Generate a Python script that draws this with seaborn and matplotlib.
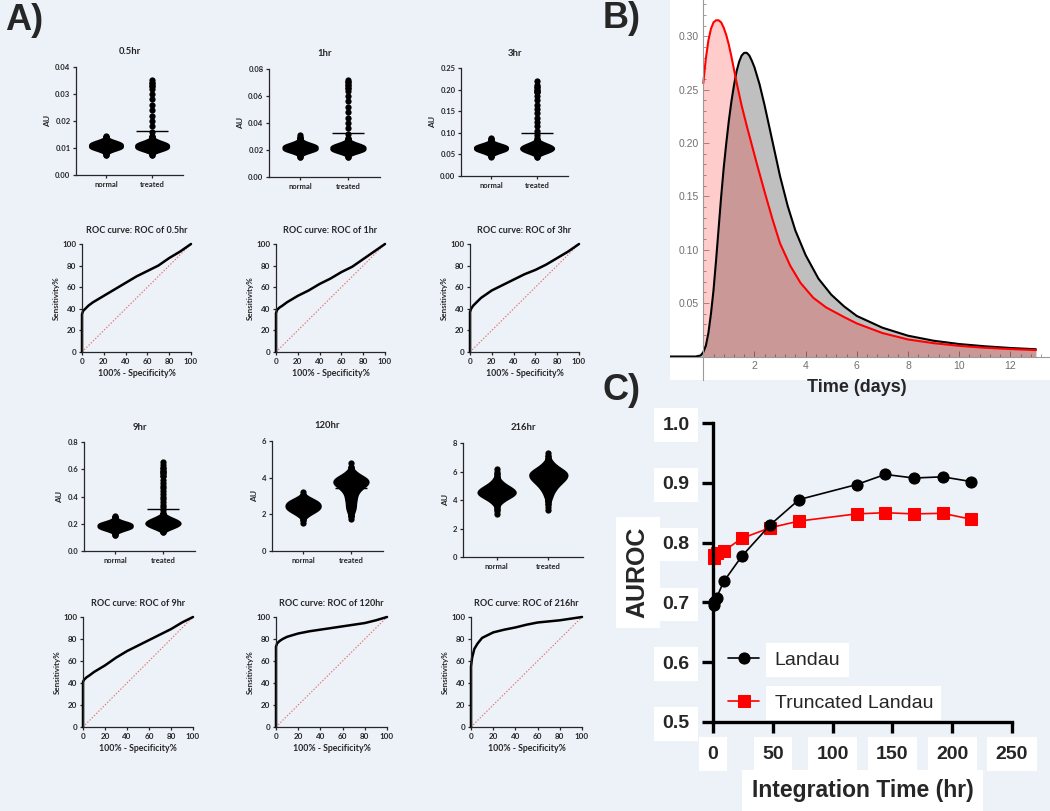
import numpy as np
import pandas as pd
import seaborn as sns
from matplotlib import pyplot as plt

swarm_titles = ["0.5hr", "1hr", "3hr", "9hr", "120hr", "216hr"]
groups = ["normal", "treated"]

normal_values = [
    [0.0075, 0.008, 0.0085, 0.009, 0.0095, 0.010, 0.0105, 0.011, 0.0115, 0.012, 0.0125,
     0.013, 0.0135, 0.014, 0.0145],
    [0.015, 0.016, 0.017, 0.018, 0.019, 0.020, 0.021, 0.022, 0.023, 0.024, 0.025, 0.026,
     0.027, 0.028, 0.029, 0.030, 0.031],
    [0.043, 0.046, 0.049, 0.052, 0.055, 0.058, 0.061, 0.064, 0.067, 0.070, 0.073, 0.076,
     0.079, 0.082, 0.085, 0.088],
    [0.12, 0.13, 0.14, 0.15, 0.16, 0.17, 0.18, 0.19, 0.20, 0.21, 0.22, 0.23, 0.24, 0.25, 0.26],
    [1.55, 1.7, 1.85, 2.0, 2.15, 2.3, 2.45, 2.6, 2.75, 2.9, 3.05, 3.2],
    [3.0, 3.2, 3.4, 3.6, 3.8, 4.0, 4.2, 4.4, 4.6, 4.8, 5.0, 5.2, 5.4, 5.6, 5.8, 6.0, 6.2],
]
normal_counts = [
    [2, 4, 8, 13, 18, 20, 20, 20, 20, 19, 16, 11, 6, 3, 1],
    [2, 4, 8, 13, 18, 20, 20, 20, 20, 19, 15, 10, 6, 3, 2, 1, 1],
    [1, 3, 6, 10, 15, 19, 20, 20, 20, 20, 17, 12, 7, 3, 2, 1],
    [2, 4, 8, 13, 18, 20, 20, 20, 20, 18, 13, 7, 4, 2, 1],
    [1, 2, 5, 10, 16, 20, 20, 20, 17, 10, 4, 1],
    [1, 1, 2, 3, 6, 10, 16, 20, 20, 18, 13, 8, 5, 3, 2, 1, 1],
]
treated_values = [
    [0.0075, 0.008, 0.0085, 0.009, 0.0095, 0.010, 0.0105, 0.011, 0.0115, 0.012, 0.0125,
     0.013, 0.0135, 0.014, 0.0145, 0.016, 0.018, 0.020, 0.022, 0.024, 0.026, 0.028, 0.030,
     0.032, 0.033, 0.034, 0.035],
    [0.015, 0.016, 0.017, 0.018, 0.019, 0.020, 0.021, 0.022, 0.023, 0.024, 0.025, 0.026,
     0.027, 0.028, 0.029, 0.032, 0.036, 0.040, 0.044, 0.048, 0.052, 0.056, 0.060, 0.064,
     0.066, 0.068, 0.070, 0.072],
    [0.045, 0.048, 0.051, 0.054, 0.057, 0.060, 0.063, 0.066, 0.069, 0.072, 0.075, 0.078,
     0.081, 0.084, 0.087, 0.095, 0.105, 0.115, 0.125, 0.135, 0.145, 0.155, 0.165, 0.175,
     0.185, 0.195, 0.200, 0.205, 0.210, 0.220],
    [0.14, 0.15, 0.16, 0.17, 0.18, 0.19, 0.20, 0.21, 0.22, 0.23, 0.24, 0.25, 0.26, 0.27,
     0.28, 0.30, 0.32, 0.34, 0.36, 0.38, 0.40, 0.42, 0.44, 0.46, 0.48, 0.50, 0.52, 0.55,
     0.57, 0.59, 0.61, 0.63, 0.65],
    [1.75, 1.9, 2.05, 2.2, 2.35, 2.5, 2.65, 2.8, 2.95, 3.1, 3.25, 3.4, 3.55, 3.7, 3.85,
     4.0, 4.15, 4.3, 4.45, 4.6, 4.8],
    [3.3, 3.5, 3.7, 3.9, 4.1, 4.3, 4.5, 4.7, 4.9, 5.1, 5.3, 5.5, 5.7, 5.9, 6.1, 6.3, 6.5,
     6.7, 6.9, 7.1, 7.3],
]
treated_counts = [
    [2, 5, 10, 15, 19, 20, 20, 20, 20, 18, 14, 9, 5, 3, 1,
     1, 1, 1, 1, 1, 1, 1, 1, 1, 2, 2, 1],
    [2, 5, 10, 15, 19, 20, 20, 20, 20, 18, 14, 9, 5, 3, 1,
     1, 1, 1, 1, 1, 1, 1, 1, 1, 2, 2, 2, 1],
    [2, 5, 10, 15, 19, 20, 20, 20, 20, 18, 14, 9, 5, 3, 1,
     1, 1, 1, 1, 1, 1, 1, 1, 1, 1, 2, 2, 2, 1, 1],
    [2, 5, 10, 15, 19, 20, 20, 20, 20, 18, 14, 9, 5, 3, 1,
     1, 1, 1, 1, 1, 1, 1, 1, 1, 1, 1, 1, 2, 2, 2, 2, 1, 1],
    [1, 3, 4, 5, 6, 6, 6, 7, 7, 8, 10, 13, 18, 20, 20, 18, 12, 7, 4, 2, 1],
    [1, 1, 2, 3, 4, 5, 6, 8, 10, 13, 16, 19, 20, 20, 17, 12, 8, 5, 3, 2, 1],
]
treated_means = [0.0163, 0.0327, 0.0995, 0.305, 3.42, 5.65]
swarm_yticks = [
    [0.00, 0.01, 0.02, 0.03, 0.04],
    [0.00, 0.02, 0.04, 0.06, 0.08],
    [0.00, 0.05, 0.10, 0.15, 0.20, 0.25],
    [0.0, 0.2, 0.4, 0.6, 0.8],
    [0, 2, 4, 6],
    [0, 2, 4, 6, 8],
]
swarm_ylabels = [
    ["0.00", "0.01", "0.02", "0.03", "0.04"],
    ["0.00", "0.02", "0.04", "0.06", "0.08"],
    ["0.00", "0.05", "0.10", "0.15", "0.20", "0.25"],
    ["0.0", "0.2", "0.4", "0.6", "0.8"],
    ["0", "2", "4", "6"],
    ["0", "2", "4", "6", "8"],
]

# === data: panel A, ROC curves ===
roc_fpr = [0, 0, 1, 3, 6, 10, 20, 30, 40, 50, 60, 70, 80, 90, 100]
roc_tpr = [
    [0, 35, 38, 40, 43, 46, 52, 58, 64, 70, 75, 80, 87, 93, 100],
    [0, 36, 39, 41, 43, 46, 52, 57, 63, 68, 74, 79, 86, 93, 100],
    [0, 37, 40, 43, 46, 50, 57, 62, 67, 72, 76, 81, 87, 93, 100],
    [0, 41, 43, 45, 47, 50, 56, 63, 69, 74, 79, 84, 89, 95, 100],
    [0, 73, 76, 78, 80, 82, 85, 87, 88.5, 90, 91.5, 93, 94.5, 97, 100],
    [0, 55, 63, 71, 76, 81, 86, 88.5, 90.5, 93, 95, 96, 97, 98.5, 100],
]

# === data: panel B, Landau densities ===
landau_t = [-1.3, -0.3, -0.1, 0.0, 0.1, 0.2, 0.3, 0.4, 0.5, 0.6, 0.7, 0.8, 0.9, 1.0, 1.1,
            1.2, 1.3, 1.4, 1.5, 1.6, 1.7, 1.8, 1.9, 2.0, 2.1, 2.2, 2.3, 2.4, 2.6, 2.8,
            3.0, 3.3, 3.6, 4.0, 4.5, 5.0, 5.5, 6.0, 7.0, 8.0, 9.0, 10.0, 11.0, 12.0, 13.0]
landau_pdf = [0.0, 0.0, 0.001, 0.004, 0.010, 0.022, 0.040, 0.062, 0.090, 0.120, 0.150,
              0.177, 0.200, 0.221, 0.239, 0.254, 0.267, 0.276, 0.282, 0.2845, 0.2845,
              0.282, 0.277, 0.271, 0.263, 0.255, 0.245, 0.235, 0.213, 0.191, 0.169,
              0.141, 0.118, 0.095, 0.073, 0.058, 0.047, 0.038, 0.027, 0.0195, 0.0148,
              0.0117, 0.0096, 0.0080, 0.0068]
trunc_t = [0.0, 0.1, 0.2, 0.3, 0.4, 0.5, 0.6, 0.7, 0.8, 0.9, 1.0, 1.1, 1.2, 1.3, 1.4, 1.5,
           1.7, 1.9, 2.1, 2.4, 2.7, 3.0, 3.4, 3.8, 4.3, 4.8, 5.5, 6.0, 7.0, 8.0, 9.0, 10.0,
           11.0, 12.0, 13.0]
trunc_pdf = [0.256, 0.279, 0.296, 0.307, 0.313, 0.315, 0.315, 0.313, 0.308, 0.301, 0.292,
             0.281, 0.269, 0.257, 0.246, 0.235, 0.216, 0.198, 0.180, 0.154, 0.129, 0.106,
             0.085, 0.069, 0.055, 0.046, 0.037, 0.031, 0.022, 0.016, 0.0125, 0.010,
             0.0082, 0.0070, 0.0060]

# === data: panel C, AUROC vs integration time ===
hours = [0.5, 1, 3, 9, 24, 48, 72, 120, 144, 168, 192, 216]
auroc_landau = [0.695, 0.700, 0.708, 0.735, 0.777, 0.830, 0.872, 0.897, 0.914, 0.908, 0.910, 0.902]
auroc_trunc = [0.780, 0.775, 0.783, 0.786, 0.807, 0.825, 0.836, 0.848, 0.850, 0.848, 0.849, 0.839]

W, H = 1050, 811
BG = "#EDF1F8"
INK = "#262626"
FONT_A = ["Lato", "DejaVu Sans"]

sns.set_style("ticks")
plt.rcParams["font.family"] = ["Liberation Sans", "DejaVu Sans"]

fig = plt.figure(figsize=(W / 100, H / 100), dpi=100)
fig.patch.set_facecolor(BG)


def px_axes(left, top, right, bottom):
    return fig.add_axes([left / W, 1 - bottom / H, (right - left) / W, (bottom - top) / H])


def style_graphpad(ax, labelsize):
    ax.patch.set_alpha(0)
    for side in ["top", "right"]:
        ax.spines[side].set_visible(False)
    for side in ["left", "bottom"]:
        ax.spines[side].set_color(INK)
        ax.spines[side].set_linewidth(0.9)
    ax.tick_params(direction="out", length=2.5, width=0.9, color=INK, pad=1.5,
                   labelsize=labelsize, labelcolor=INK)
    for lbl in ax.get_xticklabels() + ax.get_yticklabels():
        lbl.set_family(FONT_A)
        lbl.set_fontweight("bold")


def draw_swarm(ax, i):
    for grp, vals, cnts in [("normal", normal_values[i], normal_counts[i]),
                            ("treated", treated_values[i], treated_counts[i])]:
        v = np.repeat(vals, cnts).astype(float)
        df = pd.DataFrame({"group": grp, "value": v})
        # kernel about one bin wide so the outline follows the counts
        bw = 0.9 * np.median(np.diff(vals)) / v.std()
        sns.violinplot(data=df, x="group", y="value", order=groups, color="black", inner=None,
                       cut=0, density_norm="width", width=0.76, linewidth=0, bw_method=bw, ax=ax)
        sns.stripplot(data=df, x="group", y="value", order=groups, jitter=False, color="black",
                      size=4.5, ax=ax)
    ax.hlines(treated_means[i], 0.66, 1.34, color="black", lw=1.0)
    ax.set_xlim(-0.65, 1.67)
    ax.set_ylim(0, swarm_yticks[i][-1])
    ax.set_yticks(swarm_yticks[i])
    ax.set_yticklabels(swarm_ylabels[i])
    ax.set_xlabel("")
    ax.set_ylabel("AU", fontsize=6, fontweight="bold", family=FONT_A, color=INK, labelpad=3)
    ax.set_title(swarm_titles[i], fontsize=6.8, fontweight="bold", family=FONT_A, color=INK, pad=9)
    style_graphpad(ax, 5.5)


def draw_roc(ax, i):
    ax.plot([0, 100], [0, 100], ls=(0, (1.2, 1.6)), color="#E46A6A", lw=0.8)
    sns.lineplot(x=roc_fpr, y=roc_tpr[i], sort=False, estimator=None, color="black", lw=1.8, ax=ax)
    ax.lines[-1].set_clip_on(False)
    ax.set_xlim(0, 100)
    ax.set_ylim(0, 100)
    ax.set_xticks(range(0, 101, 20))
    ax.set_yticks(range(0, 101, 20))
    ax.set_xlabel("100% - Specificity%", fontsize=6.3, fontweight="bold", family=FONT_A,
                  color=INK, labelpad=3)
    ax.set_ylabel("Sensitivity%", fontsize=5.8, fontweight="bold", family=FONT_A, color=INK,
                  labelpad=2)
    ax.set_title(f"ROC curve: ROC of {swarm_titles[i]}", fontsize=6.5, fontweight="bold",
                 family=FONT_A, color=INK, pad=8)
    style_graphpad(ax, 5.8)


# === Panel A ===
swarm_boxes = [(76, 67, 183, 175), (269, 69, 380, 177), (461, 68, 568, 176),
               (84, 442, 195, 551), (272, 441, 383, 551), (463, 443, 583, 557)]
roc_boxes = [(82, 244, 191, 352), (276, 244, 385, 352), (470, 244, 579, 352),
             (83, 617, 193, 727), (276, 617, 387, 727), (471, 617, 582, 727)]
for i in range(6):
    draw_swarm(px_axes(*swarm_boxes[i]), i)
    draw_roc(px_axes(*roc_boxes[i]), i)

# === Panel B ===
axB = px_axes(670, 0, 1050, 380)
axB.set_facecolor("white")
axB.fill_between(landau_t, landau_pdf, color="black", alpha=0.25, lw=0)
axB.fill_between(trunc_t, trunc_pdf, color="red", alpha=0.2, lw=0)
sns.lineplot(x=landau_t, y=landau_pdf, color="black", lw=1.5, ax=axB)
sns.lineplot(x=trunc_t, y=trunc_pdf, color="red", lw=1.5, ax=axB)
axB.set_xlim(-1.3, 13.55)
axB.set_ylim(-0.022, 0.334)
for side in ["top", "right"]:
    axB.spines[side].set_visible(False)
for side in ["left", "bottom"]:
    axB.spines[side].set_position(("data", 0))
    axB.spines[side].set_color("#9A9A9A")
    axB.spines[side].set_linewidth(0.8)
axB.set_xticks(np.arange(2, 13, 2))
axB.set_xticks(np.arange(0.4, 13.5, 0.4), minor=True)
axB.set_yticks(np.arange(0.05, 0.31, 0.05))
axB.set_yticklabels([f"{v:.2f}" for v in np.arange(0.05, 0.31, 0.05)])
axB.set_yticks(np.arange(0.01, 0.331, 0.01), minor=True)
axB.tick_params(which="both", direction="in", color="#9A9A9A", width=0.7, labelsize=7.5,
                labelcolor="#707070")
axB.tick_params(which="major", length=4)
axB.tick_params(which="minor", length=2)
axB.set_xlabel("")
axB.set_ylabel("")
fig.text(857 / W, 1 - 388 / H, "Time (days)", fontsize=13, fontweight="bold",
         ha="center", va="center")

# === Panel C ===
axC = px_axes(713, 423, 1012, 722)
axC.patch.set_alpha(0)
sns.lineplot(x=hours, y=auroc_trunc, color="red", marker="s", markersize=8, markeredgecolor="red",
             lw=1.2, label="Truncated Landau", ax=axC)
sns.lineplot(x=hours, y=auroc_landau, color="black", marker="o", markersize=8,
             markeredgecolor="black", lw=1.2, label="Landau", ax=axC)
for ln in axC.lines:
    ln.set_clip_on(False)
axC.set_xlim(0, 250)
axC.set_ylim(0.5, 1.0)
axC.set_xticks(range(0, 251, 50))
axC.set_yticks(np.arange(0.5, 1.01, 0.1))
axC.set_yticklabels([f"{v:.1f}" for v in np.arange(0.5, 1.01, 0.1)])
for side in ["top", "right"]:
    axC.spines[side].set_visible(False)
for side in ["left", "bottom"]:
    axC.spines[side].set_linewidth(2.4)
    axC.spines[side].set_color("black")
axC.tick_params(direction="out", length=8, width=2.4, color="black", labelsize=14, pad=9)
white_box = dict(facecolor="white", edgecolor="none", pad=6)
for lbl in axC.get_xticklabels() + axC.get_yticklabels():
    lbl.set_fontweight("bold")
    lbl.set_bbox(white_box)
axC.set_xlabel("Integration Time (hr)", fontsize=16.5, fontweight="bold", labelpad=12,
               bbox=dict(facecolor="white", edgecolor="none", pad=7))
axC.set_ylabel("AUROC", fontsize=18, fontweight="bold", labelpad=9,
               bbox=dict(facecolor="white", edgecolor="none", pad=7))
handles, labels = axC.get_legend_handles_labels()
leg = axC.legend(handles[::-1], labels[::-1], loc="center left", bbox_to_anchor=(0.024, 0.136),
                 frameon=False, fontsize=14, handlelength=1.6, handletextpad=0.8,
                 labelspacing=1.3, borderaxespad=0)
for t in leg.get_texts():
    t.set_bbox(white_box)

# === panel letters ===
for letter, x, y in [("A)", 24, 20), ("B)", 622, 19), ("C)", 622, 391)]:
    fig.text(x / W, 1 - y / H, letter, fontsize=26, fontweight="bold", ha="center", va="center")

fig.savefig("out.png", dpi=100, facecolor=fig.get_facecolor())
